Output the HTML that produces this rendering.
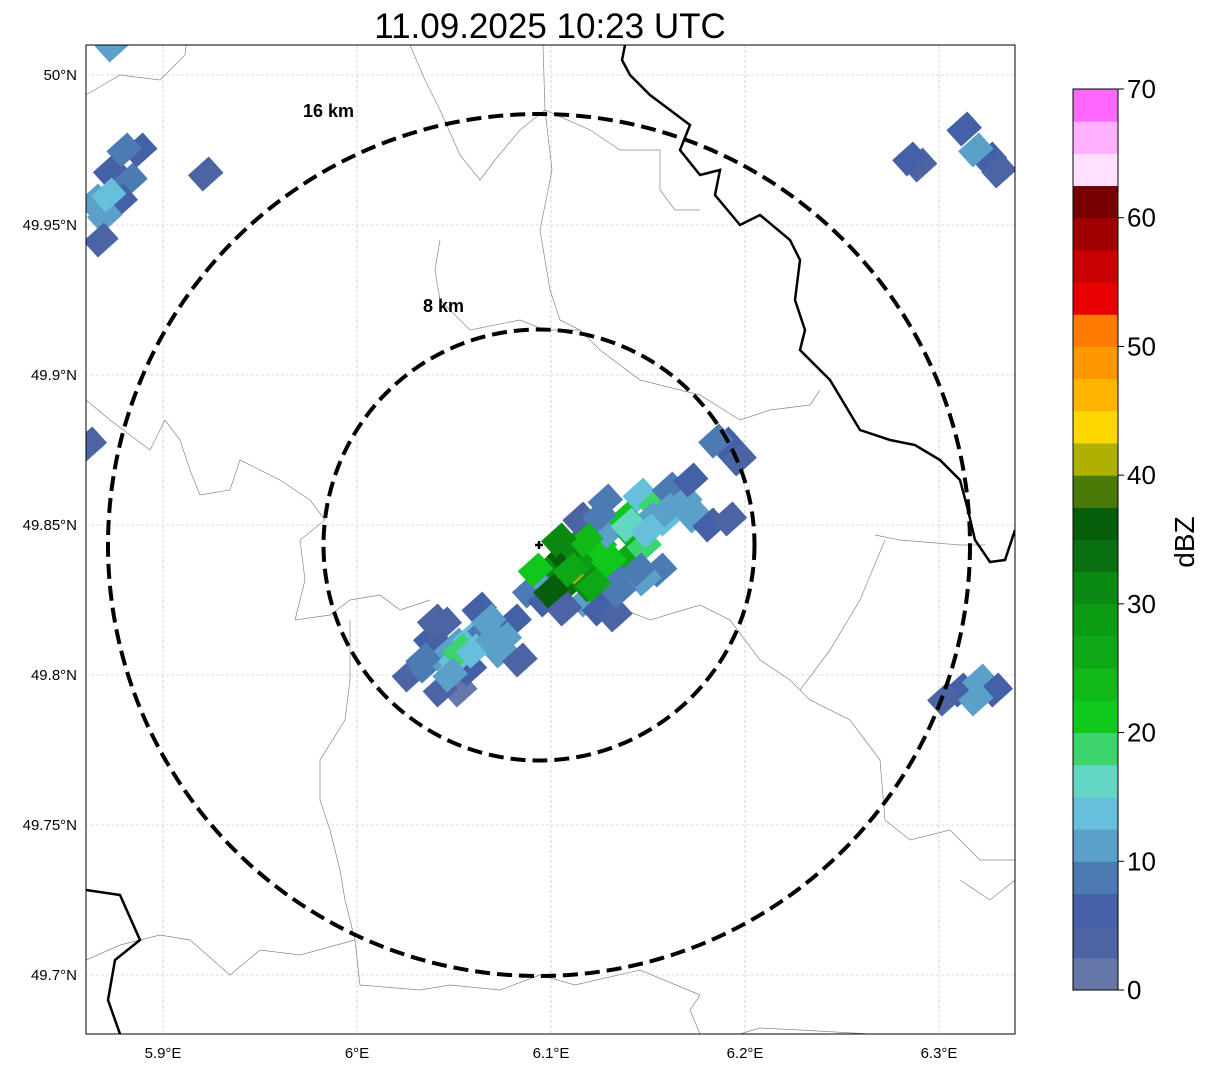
<!DOCTYPE html>
<html><head><meta charset="utf-8"><style>
body{margin:0;background:#fff;font-family:"Liberation Sans",sans-serif;}
svg{display:block}
</style></head><body>
<svg id="chart" width="1207" height="1069" xmlns="http://www.w3.org/2000/svg">
<defs><clipPath id="mapclip"><rect x="86" y="45" width="929" height="989"/></clipPath></defs>
<text x="550" y="38" font-size="35" text-anchor="middle" fill="#000">11.09.2025 10:23 UTC</text>
<g id="grid"></g>
<g id="map" clip-path="url(#mapclip)"></g>
<rect x="86" y="45" width="929" height="989" fill="none" stroke="#000" stroke-width="1"/>
<g id="ticks"></g>
<g id="cbar"></g>
<text x="1194" y="542" font-size="28" text-anchor="middle" transform="rotate(-90 1194 542)">dBZ</text>
</svg>
<script>
const lonTicks=[5.9,6.0,6.1,6.2,6.3];
const lonLabels=["5.9°E","6°E","6.1°E","6.2°E","6.3°E"];
const latTicks=[50.0,49.95,49.9,49.85,49.8,49.75,49.7];
const latLabels=["50°N","49.95°N","49.9°N","49.85°N","49.8°N","49.75°N","49.7°N"];
const cbTicks=[0,10,20,30,40,50,60,70];
const cbColors=["#6477a8","#4c63a4","#4460a6","#4c7bb4","#5aa0c8","#66c0dc","#64d6c4","#3cd46c","#10c81c","#10b818","#0ea816","#0c9c14","#0a8a12","#087010","#065e0a","#4a7a08","#b0b000","#ffd800","#ffb400","#ff9800","#ff7c00","#e80000","#c80000","#a00000","#780000","#ffe0ff","#ffb0ff","#ff68ff","#ee30ee"];
const cellLon=[6.027,6.035,6.043,6.051,6.038,6.045,6.058,6.066,6.053,6.043,6.058,6.051,6.053,6.074,6.081,6.063,6.076,6.084,6.040,
6.089,6.097,6.102,6.107,6.112,6.105,6.120,6.125,6.118,6.125,6.133,6.136,6.130,6.138,6.143,6.141,6.148,6.128,6.146,6.154,6.151,6.161,6.159,6.169,6.174,6.182,6.192,6.172,6.156,6.148,6.120,6.112,6.097,6.107,6.115,6.125,
6.190,6.197,6.185,6.290,6.285,6.313,6.326,6.331,6.319,6.311,6.321,6.329,6.303,6.319,
5.873,5.883,5.865,5.878,5.870,5.868,5.922,5.874,5.862,5.888,
6.060,6.070,6.048,6.092,6.100,6.110,6.118,6.130,6.140,6.150,6.160,6.135,6.145,6.122,6.104,6.068,6.034,5.880,5.872];
const cellLat=[49.800,49.803,49.807,49.810,49.812,49.817,49.812,49.815,49.795,49.795,49.802,49.805,49.808,49.808,49.818,49.822,49.812,49.805,49.818,
49.828,49.832,49.837,49.840,49.833,49.828,49.838,49.843,49.825,49.822,49.820,49.832,49.848,49.852,49.847,49.840,49.843,49.858,49.860,49.857,49.852,49.862,49.852,49.858,49.853,49.850,49.852,49.865,49.835,49.832,49.830,49.843,49.825,49.822,49.852,49.853,
49.877,49.872,49.878,49.970,49.972,49.982,49.972,49.968,49.975,49.795,49.798,49.795,49.792,49.792,
49.968,49.965,49.958,49.958,49.953,49.945,49.967,50.010,49.877,49.975,
49.808,49.812,49.800,49.835,49.828,49.835,49.845,49.838,49.850,49.848,49.855,49.828,49.835,49.830,49.845,49.818,49.805,49.975,49.960];
const cellDbz=[3,8,12,10,5,3,13,8,2,4,6,14,18,10,6,5,12,3,4,
9,12,30,35,40,33,28,22,10,5,3,9,10,20,24,25,18,8,14,18,12,9,13,12,10,6,4,5,8,11,30,32,6,4,4,9,
5,3,8,4,6,7,5,4,12,5,10,7,3,11,
6,8,11,5,12,4,3,11,3,5,
13,10,12,20,36,26,24,22,17,14,12,8,9,27,32,11,9,9,13];
const X=lon=>357+(lon-6.0)*1940;
const Y=lat=>525+(49.85-lat)*3000;
const NS="http://www.w3.org/2000/svg";
function mk(tag,attrs,parent){const e=document.createElementNS(NS,tag);for(const k in attrs)e.setAttribute(k,attrs[k]);parent.appendChild(e);return e;}
const grid=document.getElementById('grid'),ticks=document.getElementById('ticks'),map=document.getElementById('map'),cbar=document.getElementById('cbar');
lonTicks.forEach((v,i)=>{const x=X(v);
const l=mk('line',{x1:x,y1:45,x2:x,y2:1034,stroke:'#bbb','stroke-width':0.6,'stroke-dasharray':'3,2'},grid);

const t=mk('text',{x:x,y:1058,'font-size':15,'text-anchor':'middle'},ticks);t.textContent=lonLabels[i];
});
latTicks.forEach((v,i)=>{const y=Y(v);
const l=mk('line',{x1:86,y1:y,x2:1015,y2:y,stroke:'#bbb','stroke-width':0.6,'stroke-dasharray':'3,2'},grid);

const t=mk('text',{x:77,y:y+5,'font-size':15,'text-anchor':'end'},ticks);t.textContent=latLabels[i];
});
const gray=[[[86,95],[120,75],[160,80],[185,55],[186,45]],
[[86,400],[110,420],[150,450],[165,420],[180,440],[190,470],[200,495],[230,490],[240,460],[280,480],[310,500],[325,520],[300,540],[305,580],[295,620],[330,615],[350,600],[380,595],[400,610],[430,600]],
[[350,620],[350,680],[345,720],[320,760],[320,800],[330,830],[340,870],[345,900],[355,940],[360,985],[420,990],[450,985],[500,990],[540,975],[575,985],[640,970],[700,995]],
[[86,960],[120,945],[160,935],[190,940],[230,975],[260,950],[300,955],[355,940]],
[[410,45],[425,80],[440,110],[460,155],[480,180],[495,160],[520,130],[545,110],[590,130],[620,150],[660,150],[660,190],[675,210],[700,210]],
[[543,45],[545,110],[552,170],[540,230],[550,290],[560,320],[580,330],[600,350],[640,380],[700,395],[740,420],[770,410],[810,405],[820,390]],
[[440,240],[435,270],[440,300],[470,330],[520,320],[545,330],[580,330]],
[[600,600],[650,620],[700,605],[730,620],[760,660],[790,680],[810,700],[850,720],[880,760],[885,820],[910,840],[950,830],[980,860],[1015,860]],
[[875,535],[900,540],[960,545],[985,545]],[[885,540],[860,600],[830,650],[800,690]],
[[740,1034],[760,1028],[800,1030],[870,1034]],[[960,880],[990,900],[1015,880]],[[700,1034],[690,1010],[700,995]]];
gray.forEach(p=>{const e=mk('polyline',{points:p.join(' '),fill:'none',stroke:'#888','stroke-width':0.7},map);
});
const black=[[[625,45],[622,60],[630,75],[650,95],[670,110],[690,125],[680,150],[700,175],[720,170],[715,195],[740,225],[760,215],[790,240],[800,260],[795,300],[805,330],[800,350],[830,380],[860,430],[890,440],[915,445],[940,460],[960,480],[968,510],[975,540],[990,562],[1005,560],[1015,530]],
[[86,890],[120,895],[140,940],[115,960],[108,1000],[120,1034]]];
black.forEach(p=>{const e=mk('polyline',{points:p.join(' '),fill:'none',stroke:'#000','stroke-width':2.5},map);
});
function col(d){return cbColors[Math.min(cbColors.length-1,Math.max(0,Math.floor(d/2.5)))];}
cellLon.forEach((lo,i)=>{const x=X(lo),y=Y(cellLat[i]);
const r=mk('rect',{x:x-14,y:y-11,width:28,height:22,fill:col(cellDbz[i]),transform:`rotate(-42 ${x} ${y})`},map);
});
[[215.5,'8-km-ring'],[431,'16-km-ring']].forEach(([r,n])=>{const c=mk('circle',{cx:539,cy:545,r:r,fill:'none',stroke:'#000','stroke-width':4,'stroke-dasharray':'15,7'},map);
});
const t1=mk('text',{x:303,y:117,'font-size':18,'font-weight':'bold'},map);t1.textContent='16 km';

const t2=mk('text',{x:423,y:312,'font-size':18,'font-weight':'bold'},map);t2.textContent='8 km';

const pm=mk('path',{d:'M535 545 H543 M539 541 V549',stroke:'#000','stroke-width':2.5},map);

const cbTop=89,cbBot=990,cbH=(cbBot-cbTop)/28;
for(let i=0;i<28;i++){const r=mk('rect',{x:1073,y:cbBot-(i+1)*cbH,width:45,height:cbH+0.5,fill:cbColors[i]},cbar);
}
mk('rect',{x:1073,y:cbTop,width:45,height:cbBot-cbTop,fill:'none',stroke:'#000','stroke-width':1},cbar);
cbTicks.forEach(v=>{const y=cbBot-(v/70)*(cbBot-cbTop);
mk('line',{x1:1118,y1:y,x2:1124,y2:y,stroke:'#000'},cbar);
const t=mk('text',{x:1127,y:y+9,'font-size':26},cbar);t.textContent=v;
});
</script>
</body></html>
